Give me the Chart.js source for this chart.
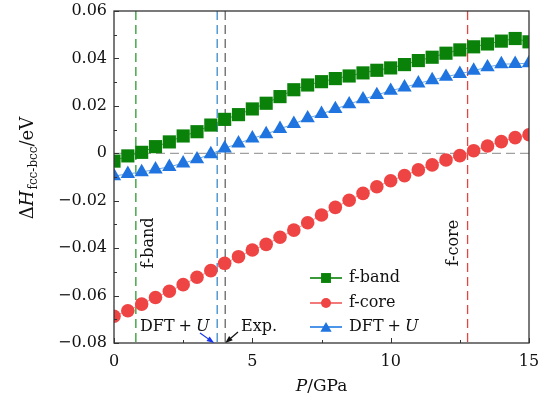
<!DOCTYPE html>
<html>
<head>
<meta charset="utf-8">
<style>
  html, body { margin: 0; padding: 0; background: #fff; }
</style>
</head>
<body>
<canvas id="chart" width="546" height="400"></canvas>
<script src="https://cdn.jsdelivr.net/npm/chart.js@4"></script>
<script>
// pressure (GPa) and enthalpy difference (eV)
const pressure = [0, 0.5, 1, 1.5, 2, 2.5, 3, 3.5, 4, 4.5, 5, 5.5, 6, 6.5, 7, 7.5, 8, 8.5, 9, 9.5, 10, 10.5, 11, 11.5, 12, 12.5, 13, 13.5, 14, 14.5, 15];
const fBand = [-0.0033, -0.0011, 0.0004, 0.0028, 0.0048, 0.0073, 0.0091, 0.0119, 0.0143, 0.0163, 0.0187, 0.0211, 0.0239, 0.0268, 0.0288, 0.0302, 0.0315, 0.0326, 0.0339, 0.0350, 0.0360, 0.0374, 0.0391, 0.0405, 0.0422, 0.0436, 0.0449, 0.0461, 0.0473, 0.0484, 0.0470];
const fCore = [-0.0687, -0.0664, -0.0636, -0.0608, -0.0582, -0.0554, -0.0523, -0.0495, -0.0464, -0.0436, -0.0408, -0.0384, -0.0354, -0.0324, -0.0293, -0.0260, -0.0228, -0.0198, -0.0169, -0.0141, -0.0116, -0.0094, -0.0070, -0.0049, -0.0028, -0.0010, 0.0011, 0.0031, 0.0049, 0.0066, 0.0078];
const dftU = [-0.0096, -0.0087, -0.0079, -0.0068, -0.0057, -0.0042, -0.0025, -0.0003, 0.0021, 0.0042, 0.0063, 0.0081, 0.0103, 0.0124, 0.0148, 0.0166, 0.0187, 0.0207, 0.0228, 0.0246, 0.0264, 0.0278, 0.0295, 0.0309, 0.0323, 0.0335, 0.0349, 0.0363, 0.0376, 0.0377, 0.0380];
const seriesNames = ['f-band', 'f-core', 'DFT+U'];

// transition pressures: f-band, DFT+U, Exp., f-core
const transitionP = [0.79, 3.73, 4.02, 12.78];
const xMinor = [2.5, 7.5, 12.5];
const yMinor = [-0.07, -0.05, -0.03, -0.01, 0.01, 0.03, 0.05];

const FONT = 'DejaVu Serif';
Chart.defaults.font.family = FONT;

const green = '#0a820a', red = '#ef4444', blue = '#1f74e0';
const lineColors = ['#2f9a2f', '#e0453f', '#3d8ac9', '#666666'];

function ds(label, values, color, lineColor, style, radius) {
  return {
    label,
    data: pressure.map((p, i) => ({ x: p, y: values[i] })),
    showLine: true,
    borderColor: lineColor,
    borderWidth: 1,
    backgroundColor: color,
    pointBackgroundColor: color,
    pointBorderColor: color,
    pointBorderWidth: 0,
    pointStyle: style,
    pointRadius: radius,
    pointHoverRadius: radius
  };
}

function drawMarker(ctx, style, x, y, r) {
  ctx.beginPath();
  if (style === 'rect') {
    const s = r * Math.SQRT1_2;
    ctx.rect(x - s, y - s, 2 * s, 2 * s);
  } else if (style === 'circle') {
    ctx.arc(x, y, r, 0, Math.PI * 2);
  } else {
    ctx.moveTo(x, y - r);
    ctx.lineTo(x + r * 0.866, y + r / 2);
    ctx.lineTo(x - r * 0.866, y + r / 2);
    ctx.closePath();
  }
  ctx.fill();
}

function arrow(ctx, x1, y1, x2, y2, color) {
  const a = Math.atan2(y2 - y1, x2 - x1);
  ctx.strokeStyle = color;
  ctx.fillStyle = color;
  ctx.lineWidth = 1.2;
  ctx.beginPath();
  ctx.moveTo(x1, y1);
  ctx.lineTo(x2 - 5 * Math.cos(a), y2 - 5 * Math.sin(a));
  ctx.stroke();
  ctx.beginPath();
  ctx.moveTo(x2, y2);
  ctx.lineTo(x2 - 8 * Math.cos(a - 0.35), y2 - 8 * Math.sin(a - 0.35));
  ctx.lineTo(x2 - 8 * Math.cos(a + 0.35), y2 - 8 * Math.sin(a + 0.35));
  ctx.closePath();
  ctx.fill();
}

function mathText(ctx, x, y, size) {
  ctx.font = size + 'px ' + FONT;
  ctx.fillText('DFT', x, y); x += ctx.measureText('DFT').width + 4;
  ctx.fillText('+', x, y); x += ctx.measureText('+').width + 4;
  ctx.font = 'italic ' + size + 'px ' + FONT; ctx.fillText('U', x, y);
}

const refLines = {
  id: 'refLines',
  beforeDatasetsDraw(chart) {
    const { ctx, chartArea: a, scales: { x, y } } = chart;
    ctx.save();
    ctx.lineWidth = 1.3;
    ctx.setLineDash([9, 5]);
    // zero line
    ctx.strokeStyle = '#a0a0a0';
    const y0 = y.getPixelForValue(0);
    ctx.beginPath(); ctx.moveTo(a.left, y0); ctx.lineTo(a.right, y0); ctx.stroke();
    const cols = [lineColors[0], lineColors[2], lineColors[3], lineColors[1]];
    transitionP.forEach((p, i) => {
      const px = x.getPixelForValue(p);
      ctx.strokeStyle = cols[i];
      ctx.beginPath(); ctx.moveTo(px, a.top); ctx.lineTo(px, a.bottom); ctx.stroke();
    });
    ctx.restore();
  },
  afterDraw(chart) {
    const { ctx, chartArea: a, scales: { x, y } } = chart;
    ctx.save();
    // box + inward ticks
    ctx.strokeStyle = '#333';
    ctx.lineWidth = 1.3;
    ctx.strokeRect(a.left, a.top, a.right - a.left, a.bottom - a.top);
    ctx.lineWidth = 1;
    y.ticks.forEach(t => {
      const py = Math.round(y.getPixelForValue(t.value)) + 0.5;
      ctx.beginPath(); ctx.moveTo(a.left, py); ctx.lineTo(a.left + 5, py); ctx.stroke();
    });
    yMinor.forEach(v => {
      const py = Math.round(y.getPixelForValue(v)) + 0.5;
      ctx.beginPath(); ctx.moveTo(a.left, py); ctx.lineTo(a.left + 3, py); ctx.stroke();
    });
    x.ticks.forEach(t => {
      const px = Math.round(x.getPixelForValue(t.value)) + 0.5;
      ctx.beginPath(); ctx.moveTo(px, a.bottom); ctx.lineTo(px, a.bottom - 5); ctx.stroke();
    });
    xMinor.forEach(v => {
      const px = Math.round(x.getPixelForValue(v)) + 0.5;
      ctx.beginPath(); ctx.moveTo(px, a.bottom); ctx.lineTo(px, a.bottom - 3); ctx.stroke();
    });

    ctx.fillStyle = '#111';
    // x title
    ctx.textBaseline = 'alphabetic';
    ctx.font = 'italic 17px ' + FONT;
    const wP = ctx.measureText('P').width;
    ctx.font = '17px ' + FONT;
    const wG = ctx.measureText('/GPa').width;
    const cx = (a.left + a.right) / 2 - (wP + wG) / 2;
    ctx.font = 'italic 17px ' + FONT; ctx.fillText('P', cx, 391);
    ctx.font = '17px ' + FONT; ctx.fillText('/GPa', cx + wP, 391);

    // y title
    ctx.save();
    ctx.translate(33, 168);
    ctx.rotate(-Math.PI / 2);
    const parts = [['Δ', '18px ', 0], ['H', 'italic 18px ', 0], ['fcc-bcc', '12px ', 4], ['/eV', '18px ', 0]];
    let tot = 0;
    parts.forEach(p => { ctx.font = p[1] + FONT; tot += ctx.measureText(p[0]).width + (p[0] === 'H' ? 1 : 0); });
    let px0 = -tot / 2;
    parts.forEach(p => {
      ctx.font = p[1] + FONT;
      ctx.fillText(p[0], px0, p[2]);
      px0 += ctx.measureText(p[0]).width + (p[0] === 'H' ? 1 : 0);
    });
    ctx.restore();

    // rotated labels next to the vertical lines
    ctx.font = '16px ' + FONT;
    ctx.textAlign = 'center';
    ctx.textBaseline = 'middle';
    [['f-band', x.getPixelForValue(transitionP[0]) + 13, 243], ['f-core', x.getPixelForValue(transitionP[3]) - 14, 243]].forEach(l => {
      ctx.save(); ctx.translate(l[1], l[2]); ctx.rotate(-Math.PI / 2); ctx.fillText(l[0], 0, 0); ctx.restore();
    });

    // DFT+U and Exp. annotations
    ctx.textAlign = 'left';
    ctx.textBaseline = 'alphabetic';
    mathText(ctx, 140, 331, 16);
    ctx.font = '16px ' + FONT;
    ctx.fillText('Exp.', 241, 331);
    arrow(ctx, 200, 333, x.getPixelForValue(transitionP[1]) - 3, a.bottom, '#1535f0');
    arrow(ctx, 238, 332, x.getPixelForValue(transitionP[2]), a.bottom, '#111');

    // legend
    const styles = ['rect', 'circle', 'triangle'];
    const fills = [green, red, blue];
    const legLines = ['#3a9a3a', '#f27a7a', '#4d95e8'];
    const rowsY = [278, 303, 327];
    seriesNames.forEach((name, i) => {
      const ly = rowsY[i];
      ctx.strokeStyle = legLines[i];
      ctx.lineWidth = 2;
      ctx.beginPath(); ctx.moveTo(310, ly); ctx.lineTo(342, ly); ctx.stroke();
      ctx.fillStyle = fills[i];
      drawMarker(ctx, styles[i], 326, ly + (i === 2 ? 1.5 : 0), i === 0 ? 7 : i === 1 ? 5 : 6.5);
      ctx.fillStyle = '#111';
      ctx.textBaseline = 'middle';
      if (name === 'DFT+U') {
        mathText(ctx, 349, ly, 16);
      } else {
        ctx.font = '16px ' + FONT;
        ctx.fillText(name, 349, ly);
      }
    });
    ctx.restore();
  }
};

new Chart(document.getElementById('chart'), {
  type: 'scatter',
  data: {
    datasets: [
      ds(seriesNames[0], fBand, green, '#4aa84a', 'rect', 9.3),
      ds(seriesNames[1], fCore, red, '#f39090', 'circle', 6.8),
      ds(seriesNames[2], dftU, blue, '#6aa6ea', 'triangle', 8.3)
    ]
  },
  options: {
    responsive: false,
    animation: false,
    layout: { padding: { top: 11, right: 17, left: 0, bottom: 0 } },
    plugins: { legend: { display: false }, tooltip: { enabled: false } },
    scales: {
      x: {
        type: 'linear', min: 0, max: 15,
        grid: { display: false, drawTicks: false },
        border: { display: false },
        ticks: { stepSize: 5, color: '#111', font: { size: 16 }, padding: 9 },
        afterFit: s => { s.height = 57; s.paddingLeft = 0; s.paddingRight = 0; }
      },
      y: {
        min: -0.08, max: 0.06,
        grid: { display: false, drawTicks: false },
        border: { display: false },
        ticks: {
          stepSize: 0.02, color: '#111', font: { size: 16 }, padding: 7,
          callback: v => Math.abs(v) < 1e-9 ? '0' : (v < 0 ? '\u2212' : '') + Math.abs(v).toFixed(2)
        },
        afterFit: s => { s.width = 114; s.paddingTop = 0; s.paddingBottom = 0; }
      }
    }
  },
  plugins: [refLines]
});
</script>
</body>
</html>
